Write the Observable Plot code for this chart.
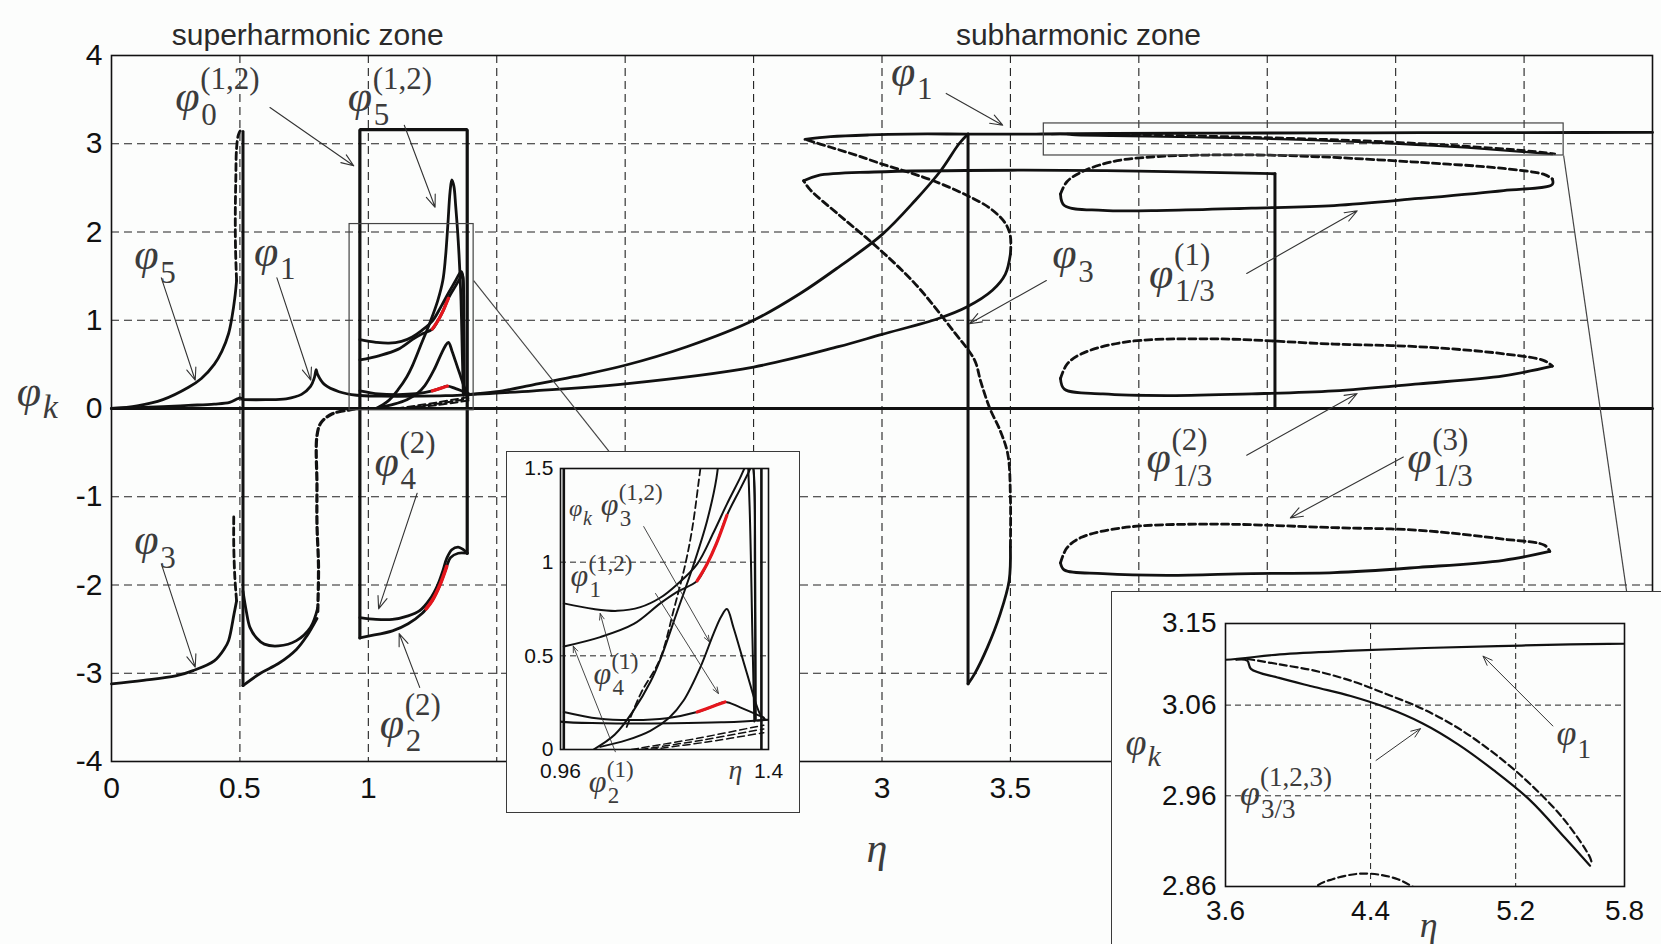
<!DOCTYPE html>
<html>
<head>
<meta charset="utf-8">
<script src="https://cdn.jsdelivr.net/npm/d3@7"></script>
<script src="https://cdn.jsdelivr.net/npm/@observablehq/plot@0.6"></script>
<style>
  html, body { margin: 0; padding: 0; background: #fcfdfc; overflow: hidden; }
  #stage { position: relative; width: 1661px; height: 944px; }
  #stage > svg { position: absolute; left: 0; top: 0; }
  .inset { position: absolute; background: #fcfdfc; outline: 1.5px solid #3a3a3a; overflow: hidden; }
  .inset > svg { position: absolute; left: 0; top: 0; }
  #inset1 { left: 507px; top: 452px; width: 292px; height: 360px; }
  #inset2 { left: 1112px; top: 592px; width: 560px; height: 360px; }
</style>
</head>
<body>
<div id="stage">
  <div class="inset" id="inset1"></div>
  <div class="inset" id="inset2"></div>
</div>
<script>
// ---------- axes / grid values ----------
const etaGrid = [0.5, 1, 1.5, 2, 2.5, 3, 3.5, 4, 4.5, 5, 5.5];
const phiGrid = [-3, -2, -1, 1, 2, 3];
const etaTickLabels = [0, 0.5, 1, 3, 3.5];
const phiTicks = [-4, -3, -2, -1, 0, 1, 2, 3, 4];

const zoomEtaTicks = [0.96, 1.4];
const zoomPhiTicks = [0, 0.5, 1, 1.5];
const zoomPhiGrid = [0.5, 1];

const topEtaTicks = [3.6, 4.4, 5.2, 5.8];
const topPhiTicks = [2.86, 2.96, 3.06, 3.15];
const topEtaGrid = [4.4, 5.2];
const topPhiGrid = [2.96, 3.06];

// ---------- superharmonic zone (eta < 1.4) ----------
const zeroLine = [[0, 0], [6, 0]];
const phi1Start = [[0, 0], [0.1, 0.01], [0.2, 0.02], [0.3, 0.035], [0.4, 0.05], [0.46, 0.07], [0.49, 0.11], [0.5, 0.12], [0.512, 0.1]];
const phi1Main = [[0.512, 0.1], [0.6, 0.1], [0.68, 0.11], [0.74, 0.16], [0.775, 0.25], [0.79, 0.35], [0.797, 0.44],
  [0.802, 0.39], [0.83, 0.27], [0.886, 0.19], [0.955, 0.15], [1.05, 0.14], [1.2, 0.14], [1.3, 0.145], [1.377, 0.155],
  [1.5, 0.19], [1.645, 0.27], [1.8, 0.36], [2.0, 0.49], [2.24, 0.70], [2.5, 1.0], [2.68, 1.30], [2.83, 1.60],
  [3.0, 1.97], [3.13, 2.36], [3.23, 2.70], [3.30, 3.0], [3.335, 3.11]];
const phi5Rise = [[0, 0], [0.1, 0.03], [0.2, 0.1], [0.3, 0.24], [0.35, 0.34], [0.4, 0.5], [0.43, 0.65], [0.456, 0.85],
  [0.47, 1.05], [0.48, 1.25], [0.487, 1.45]];
const phi5Unstable = [[0.487, 1.45], [0.483, 1.8], [0.482, 2.2], [0.484, 2.6], [0.487, 2.95], [0.494, 3.1], [0.503, 3.15], [0.512, 3.14]];
const jumpHalf = [[0.512, 3.14], [0.512, -3.14]];
const phi3Start = [[0, -3.12], [0.124, -3.08], [0.25, -3.03], [0.318, -2.97], [0.4, -2.86], [0.44, -2.72], [0.456, -2.63],
  [0.477, -2.33], [0.487, -2.18]];
const phi3Unstable = [[0.487, -2.18], [0.48, -1.9], [0.476, -1.55], [0.476, -1.22]];
const phi3UpperArc = [[0.512, -2.07], [0.525, -2.3], [0.539, -2.48], [0.565, -2.6], [0.595, -2.67], [0.65, -2.69],
  [0.72, -2.63], [0.775, -2.48], [0.803, -2.26]];
const phi3LowerArc = [[0.512, -3.14], [0.58, -3.0], [0.65, -2.89], [0.72, -2.73], [0.76, -2.58], [0.80, -2.38]];
const phi3Riser = [[0.803, -2.3], [0.806, -1.8], [0.80, -1.3], [0.80, -0.87], [0.80, -0.31], [0.816, -0.16],
  [0.86, -0.06], [0.927, -0.015], [0.96, 0]];

// resonance near eta = 1
const phi0Box = [[0.967, -2.6], [0.967, 3.16], [1.385, 3.16], [1.385, -1.64]];
const phi2Sup2 = [[0.967, -2.6], [1.0, -2.58], [1.094, -2.52], [1.155, -2.44], [1.21, -2.32], [1.225, -2.27],
  [1.25, -2.17], [1.28, -1.99], [1.305, -1.79], [1.32, -1.69], [1.35, -1.64], [1.385, -1.64]];
const phi4Sup2 = [[0.967, -2.37], [1.03, -2.39], [1.094, -2.39], [1.155, -2.35], [1.2, -2.29], [1.24, -2.16],
  [1.27, -2.0], [1.29, -1.84], [1.305, -1.70], [1.325, -1.6], [1.35, -1.57], [1.37, -1.6], [1.385, -1.64]];
const phi2Red = [[1.225, -2.27], [1.25, -2.17], [1.28, -1.99], [1.305, -1.79]];
const phi1Sup12 = [[0.967, 0.78], [1.03, 0.75], [1.08, 0.74], [1.129, 0.76], [1.171, 0.81], [1.206, 0.88],
  [1.249, 0.99], [1.284, 1.16], [1.312, 1.31], [1.34, 1.45], [1.355, 1.53], [1.362, 1.55], [1.368, 1.5],
  [1.371, 1.0], [1.372, 0.16]];
const phi4Sup1 = [[0.967, 0.55], [1.044, 0.60], [1.115, 0.67], [1.171, 0.78], [1.206, 0.84], [1.249, 0.90],
  [1.27, 0.99], [1.29, 1.10], [1.312, 1.25], [1.34, 1.39], [1.358, 1.48], [1.366, 1.52], [1.37, 1.4],
  [1.372, 0.9], [1.373, 0.16]];
const phi4Red = [[1.249, 0.90], [1.27, 0.99], [1.29, 1.10], [1.312, 1.25]];
const phi5Sup12 = [[1.03, 0.0], [1.075, 0.08], [1.115, 0.21], [1.15, 0.36], [1.171, 0.48], [1.206, 0.73],
  [1.242, 0.99], [1.27, 1.22], [1.29, 1.45], [1.30, 1.7], [1.31, 2.1], [1.318, 2.45], [1.325, 2.59],
  [1.333, 2.52], [1.34, 2.3], [1.35, 1.9], [1.36, 1.3], [1.366, 0.6], [1.37, 0.15]];
const phi5Sup12Unstable = [[1.10, 0.12], [1.13, 0.3], [1.17, 0.48], [1.20, 0.75], [1.225, 1.0], [1.24, 1.2], [1.256, 1.5], [1.262, 1.6]];
const phi3Sup12 = [[1.044, 0.014], [1.10, 0.05], [1.15, 0.10], [1.19, 0.17], [1.22, 0.26], [1.256, 0.44],
  [1.284, 0.62], [1.30, 0.71], [1.312, 0.75], [1.326, 0.65], [1.354, 0.41], [1.382, 0.19], [1.393, 0.16]];
const phi2Sup12 = [[0.967, 0.20], [1.04, 0.165], [1.115, 0.157], [1.185, 0.167], [1.249, 0.20], [1.28, 0.228],
  [1.308, 0.254], [1.34, 0.225], [1.39, 0.17]];
const phi2Red12 = [[1.249, 0.20], [1.28, 0.228], [1.308, 0.254]];
const phi2Sup1A = [[1.11, 0.0], [1.25, 0.06], [1.39, 0.13]];
const phi2Sup1B = [[1.13, 0.0], [1.26, 0.05], [1.39, 0.11]];
const phi2Sup1C = [[1.15, 0.0], [1.27, 0.04], [1.39, 0.09]];

// ---------- subharmonic zone ----------
const phi3Lower = [[1.377, 0.155], [1.645, 0.2], [2.0, 0.28], [2.5, 0.47], [2.83, 0.70], [3.0, 0.84], [3.22, 1.02],
  [3.33, 1.15], [3.43, 1.34], [3.48, 1.52], [3.5, 1.75]];
const phi3Upper = [[3.5, 1.75], [3.5, 1.95], [3.48, 2.1], [3.42, 2.27], [3.32, 2.43], [3.2, 2.58], [3.1, 2.68],
  [3.0, 2.77], [2.9, 2.87], [2.8, 2.96], [2.70, 3.05]];
const phi1Top = [[2.70, 3.05], [2.8, 3.08], [2.95, 3.10], [3.1, 3.11], [3.335, 3.11], [3.6, 3.11], [3.9, 3.116],
  [4.3, 3.12], [4.7, 3.123], [5.1, 3.125], [5.5, 3.127], [6.0, 3.128]];
const jumpSub = [[3.335, 3.11], [3.335, -3.12]];
const phi3Bottom = [[3.335, -3.12], [3.36, -3.01], [3.41, -2.71], [3.46, -2.33], [3.495, -1.95], [3.5, -1.57]];
const phi3Return = [[3.5, -1.57], [3.5, -1.0], [3.49, -0.52], [3.46, -0.25], [3.42, 0.0], [3.385, 0.3], [3.36, 0.55],
  [3.28, 0.87], [3.13, 1.41], [2.98, 1.83], [2.83, 2.2], [2.72, 2.48], [2.695, 2.58]];
const phi3Shelf = [[2.695, 2.58], [2.75, 2.64], [2.97, 2.68], [3.5, 2.70], [4.0, 2.69], [4.53, 2.66]];
const shelfDrop = [[4.53, 2.66], [4.53, 0]];

const loop1Unstable = [[3.695, 2.43], [3.72, 2.57], [3.777, 2.68], [3.86, 2.77], [3.94, 2.82], [4.10, 2.86],
  [4.19, 2.868], [4.33, 2.874], [4.45, 2.873], [4.55, 2.868], [4.63, 2.86], [4.76, 2.845], [5.09, 2.79],
  [5.42, 2.72], [5.58, 2.65], [5.61, 2.60]];
const loop1Stable = [[5.61, 2.60], [5.61, 2.54], [5.42, 2.47], [5.09, 2.38], [4.76, 2.30], [4.44, 2.27],
  [4.11, 2.245], [3.86, 2.245], [3.71, 2.30], [3.695, 2.43]];
const loop2Unstable = [[3.695, 0.34], [3.72, 0.50], [3.777, 0.62], [3.94, 0.75], [4.27, 0.79], [4.76, 0.73],
  [5.09, 0.70], [5.42, 0.62], [5.58, 0.54], [5.61, 0.48]];
const loop2Stable = [[5.61, 0.48], [5.42, 0.37], [5.09, 0.28], [4.76, 0.20], [4.44, 0.166], [4.11, 0.147],
  [3.86, 0.166], [3.71, 0.22], [3.695, 0.34]];
const loop3Unstable = [[3.695, -1.75], [3.72, -1.58], [3.777, -1.46], [3.94, -1.35], [4.27, -1.31], [4.76, -1.35],
  [5.09, -1.38], [5.42, -1.48], [5.58, -1.55], [5.60, -1.62]];
const loop3Stable = [[5.60, -1.62], [5.42, -1.72], [5.09, -1.80], [4.76, -1.86], [4.44, -1.87], [4.11, -1.89],
  [3.86, -1.87], [3.71, -1.83], [3.695, -1.75]];
const phi33Stable = [[3.66, 3.11], [3.72, 3.109], [3.74, 3.10], [3.896, 3.09], [4.09, 3.08], [4.29, 3.07],
  [4.49, 3.057], [4.685, 3.04], [4.88, 3.017], [5.08, 2.988], [5.28, 2.955], [5.47, 2.914], [5.61, 2.883]];
const phi33Unstable = [[3.72, 3.111], [3.896, 3.105], [4.09, 3.098], [4.29, 3.087], [4.49, 3.072], [4.685, 3.056],
  [4.88, 3.035], [5.08, 3.007], [5.28, 2.973], [5.47, 2.933], [5.61, 2.892], [5.62, 2.885]];

// zoom frames drawn on the main axes and their leader lines
const zoomFrames = [
  {x1: 0.927, x2: 1.41, y1: -0.02, y2: 2.09},
  {x1: 3.63, x2: 5.654, y1: 2.867, y2: 3.23}
];
const leaders = [
  {x1: 1.41, y1: 1.45, x2: 1.944, y2: -0.51},
  {x1: 5.654, y1: 2.867, x2: 5.90, y2: -2.09}
];

// ---------- annotations ----------
const zoneTitles = [
  {eta: 0.764, phi: 4.23, text: "superharmonic zone"},
  {eta: 3.765, phi: 4.23, text: "subharmonic zone"}
];
const mainLabels = [
  {eta: 0.248, phi: 3.43, sub: "0", sup: "(1,2)"},
  {eta: 0.92, phi: 3.43, sub: "5", sup: "(1,2)"},
  {eta: 0.089, phi: 1.64, sub: "5"},
  {eta: 0.555, phi: 1.68, sub: "1"},
  {eta: 0.089, phi: -1.59, sub: "3"},
  {eta: 1.024, phi: -0.70, sub: "4", sup: "(2)"},
  {eta: 1.044, phi: -3.67, sub: "2", sup: "(2)"},
  {eta: 3.035, phi: 3.72, sub: "1"},
  {eta: 3.663, phi: 1.65, sub: "3"},
  {eta: 4.04, phi: 1.43, sub: "1/3", sup: "(1)"},
  {eta: 4.03, phi: -0.66, sub: "1/3", sup: "(2)"},
  {eta: 5.045, phi: -0.66, sub: "1/3", sup: "(3)"}
];
const mainArrows = [
  {x1: 0.617, y1: 3.41, x2: 0.943, y2: 2.75},
  {x1: 1.14, y1: 3.21, x2: 1.26, y2: 2.28},
  {x1: 0.194, y1: 1.48, x2: 0.326, y2: 0.32},
  {x1: 0.644, y1: 1.48, x2: 0.776, y2: 0.32},
  {x1: 0.194, y1: -1.76, x2: 0.326, y2: -2.93},
  {x1: 1.19, y1: -0.96, x2: 1.04, y2: -2.27},
  {x1: 1.20, y1: -3.16, x2: 1.12, y2: -2.55},
  {x1: 3.25, y1: 3.57, x2: 3.47, y2: 3.21},
  {x1: 3.64, y1: 1.45, x2: 3.34, y2: 0.96},
  {x1: 4.42, y1: 1.53, x2: 4.85, y2: 2.24},
  {x1: 4.42, y1: -0.53, x2: 4.85, y2: 0.17},
  {x1: 5.03, y1: -0.55, x2: 4.59, y2: -1.24}
];
const mainAxisLabels = [{eta: -0.369, phi: 0.09, sub: "k"}];
const mainEtaLabel = [{eta: 2.98, phi: -4.99, text: "η"}];

const zoomLabels = [
  {eta: 1.045, phi: 1.27, sub: "3", sup: "(1,2)"},
  {eta: 0.981, phi: 0.893, sub: "1", sup: "(1,2)"},
  {eta: 1.030, phi: 0.368, sub: "4", sup: "(1)"},
  {eta: 1.020, phi: -0.208, sub: "2", sup: "(1)"}
];
const zoomArrows = [
  {x1: 1.136, y1: 1.19, x2: 1.275, y2: 0.575},
  {x1: 1.161, y1: 0.833, x2: 1.294, y2: 0.299},
  {x1: 1.069, y1: 0.495, x2: 1.044, y2: 0.726},
  {x1: 1.076, y1: -0.012, x2: 0.987, y2: 0.552}
];
const zoomAxisLabels = [{eta: 0.978, phi: 1.26, sub: "k"}];
const zoomEtaLabel = [{eta: 1.33, phi: -0.11, text: "η"}];

const topLabels = [
  {eta: 5.425, phi: 3.021, sub: "1"},
  {eta: 3.68, phi: 2.955, sub: "3/3", sup: "(1,2,3)"}
];
const topArrows = [
  {x1: 5.405, y1: 3.037, x2: 5.02, y2: 3.114},
  {x1: 4.43, y1: 2.999, x2: 4.675, y2: 3.034}
];
const topAxisLabels = [{eta: 3.049, phi: 3.010, sub: "k"}];
const topEtaLabel = [{eta: 4.72, phi: 2.817, text: "η"}];

// ---------- drawing helpers ----------
const INK = "#111";
const LABEL_INK = "#3c3c3c";
const MATH_FONT = "Liberation Serif, Times New Roman, serif";
const xy = {x: d => d[0], y: d => d[1]};

function solid(data, w, extra = {}) {
  return Plot.line(data, {...xy, stroke: INK, strokeWidth: w, strokeLinejoin: "round", curve: "catmull-rom", ...extra});
}
function dashed(data, w, extra = {}) {
  return Plot.line(data, {...xy, stroke: INK, strokeWidth: w, strokeDasharray: "7,4", curve: "catmull-rom", ...extra});
}
function straight(data, w, extra = {}) {
  return Plot.line(data, {...xy, stroke: INK, strokeWidth: w, strokeLinejoin: "miter", curve: "linear", ...extra});
}
function red(data, w, extra = {}) {
  return Plot.line(data, {...xy, stroke: "#e5161d", strokeWidth: w, curve: "catmull-rom", ...extra});
}

// phi with a subscript and optional superscript
function phiLabels(data, s) {
  return [
    Plot.text(data, {x: "eta", y: "phi", text: () => "φ", textAnchor: "start", dy: -0.2 * s.size,
      fontFamily: MATH_FONT, fontStyle: "italic", fontSize: s.size, fill: LABEL_INK}),
    Plot.text(data, {x: "eta", y: "phi", text: "sub", textAnchor: "start", dx: s.w, dy: s.subDy,
      fontFamily: MATH_FONT, fontStyle: s.subItalic ? "italic" : "normal", fontSize: s.subSize, fill: LABEL_INK}),
    Plot.text(data.filter(d => d.sup), {x: "eta", y: "phi", text: "sup", textAnchor: "start", dx: s.w - 1, dy: s.supDy,
      fontFamily: MATH_FONT, fontSize: s.supSize, fill: LABEL_INK})
  ];
}
function arrows(data, w, head) {
  return Plot.arrow(data, {x1: "x1", y1: "y1", x2: "x2", y2: "y2", stroke: "#333", strokeWidth: w,
    headLength: head, headAngle: 42});
}

// ---------- main chart ----------
const W = 2.8;
const main = Plot.plot({
  width: 1661, height: 944,
  marginLeft: 111, marginRight: 9, marginTop: 55, marginBottom: 183,
  style: {background: "transparent", fontFamily: "Liberation Sans, Arial, sans-serif", fontSize: "30px", color: "#111", overflow: "visible"},
  x: {domain: [0, 6], ticks: etaTickLabels, tickFormat: d => String(d), tickSize: 0, tickPadding: 15, label: null},
  y: {domain: [-4, 4], ticks: phiTicks, tickFormat: d => String(d), tickSize: 0, tickPadding: 9, label: null},
  marks: [
    Plot.ruleX(etaGrid, {stroke: "#222", strokeWidth: 1.1, strokeDasharray: "8,5"}),
    Plot.ruleY(phiGrid, {stroke: "#222", strokeWidth: 1.1, strokeDasharray: "8,5"}),
    Plot.frame({stroke: INK, strokeWidth: 1.6}),

    straight(zeroLine, 3),
    solid(phi1Start, W), solid(phi1Main, W),
    solid(phi5Rise, W), dashed(phi5Unstable, W),
    straight(jumpHalf, 3),
    solid(phi3Start, W), dashed(phi3Unstable, W),
    solid(phi3UpperArc, W), solid(phi3LowerArc, W), dashed(phi3Riser, 3.2),
    straight(phi0Box, 3.2),
    solid(phi2Sup2, W), solid(phi4Sup2, W),
    solid(phi1Sup12, W), solid(phi4Sup1, W), solid(phi5Sup12, W),
    solid(phi3Sup12, W), solid(phi2Sup12, W),
    dashed(phi2Sup1A, 2), dashed(phi2Sup1B, 2), dashed(phi2Sup1C, 2),
    red(phi2Red, 3.6), red(phi4Red, 3.2), red(phi2Red12, 3.2),

    solid(phi3Lower, W), dashed(phi3Upper, W), solid(phi1Top, W),
    straight(jumpSub, 3), solid(phi3Bottom, W), dashed(phi3Return, W), solid(phi3Shelf, W), straight(shelfDrop, 3),
    dashed(loop1Unstable, W), solid(loop1Stable, W),
    dashed(loop2Unstable, W), solid(loop2Stable, W),
    dashed(loop3Unstable, W), solid(loop3Stable, W),
    solid(phi33Stable, 2.2), dashed(phi33Unstable, 2.2),

    Plot.rect(zoomFrames, {x1: "x1", x2: "x2", y1: "y1", y2: "y2", fill: "none", stroke: "#444", strokeWidth: 1.2}),
    Plot.link(leaders, {x1: "x1", y1: "y1", x2: "x2", y2: "y2", stroke: "#444", strokeWidth: 1.2}),

    arrows(mainArrows, 1.1, 18),
    ...phiLabels(mainLabels, {size: 44, w: 26, subSize: 31, subDy: 9, supSize: 31, supDy: -27}),
    ...phiLabels(mainAxisLabels, {size: 44, w: 26, subSize: 34, subDy: 7, subItalic: true}),
    Plot.text(mainEtaLabel, {x: "eta", y: "phi", text: "text", fontFamily: MATH_FONT, fontStyle: "italic", fontSize: 42, fill: LABEL_INK}),
    Plot.text(zoneTitles, {x: "eta", y: "phi", text: "text", fontFamily: "Liberation Sans", fontSize: 30, fill: "#2a2a2a"})
  ]
});
document.getElementById("stage").prepend(main);

// ---------- zoom on the eta = 1 resonance ----------
const Wz = 2;
const zoom1 = Plot.plot({
  width: 292, height: 360,
  marginLeft: 53, marginRight: 31, marginTop: 16, marginBottom: 63,
  style: {background: "transparent", fontFamily: "Liberation Sans, Arial, sans-serif", fontSize: "21px", color: "#111", overflow: "visible"},
  x: {domain: [0.96, 1.4], ticks: zoomEtaTicks, tickFormat: d => String(d), tickSize: 0, tickPadding: 14, label: null},
  y: {domain: [0, 1.5], ticks: zoomPhiTicks, tickFormat: d => String(d), tickSize: 0, tickPadding: 7, label: null},
  marks: [
    Plot.ruleY(zoomPhiGrid, {stroke: "#222", strokeWidth: 1, strokeDasharray: "6,4"}),
    straight(phi0Box, 2.6, {clip: true}),
    solid(phi1Main, Wz, {clip: true}),
    solid(phi1Sup12, Wz, {clip: true}), solid(phi4Sup1, Wz, {clip: true}),
    solid(phi5Sup12, Wz, {clip: true}), dashed(phi5Sup12Unstable, 1.8, {clip: true}),
    solid(phi3Sup12, Wz, {clip: true}), solid(phi2Sup12, Wz, {clip: true}),
    solid(phi3Lower, Wz, {clip: true}),
    dashed(phi2Sup1A, 1.5, {clip: true}), dashed(phi2Sup1B, 1.5, {clip: true}), dashed(phi2Sup1C, 1.5, {clip: true}),
    red(phi4Red, 3.2, {clip: true}), red(phi2Red12, 3.2, {clip: true}),
    Plot.frame({stroke: INK, strokeWidth: 1.6}),
    arrows(zoomArrows, 0.9, 11),
    ...phiLabels(zoomLabels, {size: 32, w: 19, subSize: 23, subDy: 7, supSize: 23, supDy: -19}),
    ...phiLabels(zoomAxisLabels, {size: 24, w: 14, subSize: 20, subDy: 5, subItalic: true}),
    Plot.text(zoomEtaLabel, {x: "eta", y: "phi", text: "text", fontFamily: MATH_FONT, fontStyle: "italic", fontSize: 28, fill: LABEL_INK})
  ]
});
document.getElementById("inset1").append(zoom1);

// ---------- zoom on the 1/3 subharmonic near phi = pi ----------
const zoom2 = Plot.plot({
  width: 549, height: 352,
  marginLeft: 113, marginRight: 37, marginTop: 31, marginBottom: 58,
  style: {background: "transparent", fontFamily: "Liberation Sans, Arial, sans-serif", fontSize: "28px", color: "#111", overflow: "visible"},
  x: {domain: [3.6, 5.8], ticks: topEtaTicks, tickFormat: d => String(d), tickSize: 0, tickPadding: 14, label: null},
  y: {domain: [2.86, 3.15], ticks: topPhiTicks, tickFormat: d => d.toFixed(2), tickSize: 0, tickPadding: 9, label: null},
  marks: [
    Plot.ruleX(topEtaGrid, {stroke: "#222", strokeWidth: 1, strokeDasharray: "6,4"}),
    Plot.ruleY(topPhiGrid, {stroke: "#222", strokeWidth: 1, strokeDasharray: "6,4"}),
    solid(phi1Top, 2.2, {clip: true}),
    solid(phi33Stable, 2.2, {clip: true}), dashed(phi33Unstable, 2.2, {clip: true}),
    dashed(loop1Unstable, 2.2, {clip: true}),
    Plot.frame({stroke: INK, strokeWidth: 1.6}),
    arrows(topArrows, 1, 15),
    ...phiLabels(topLabels, {size: 36, w: 21, subSize: 27, subDy: 9, supSize: 27, supDy: -23}),
    ...phiLabels(topAxisLabels, {size: 38, w: 22, subSize: 30, subDy: 6, subItalic: true}),
    Plot.text(topEtaLabel, {x: "eta", y: "phi", text: "text", fontFamily: MATH_FONT, fontStyle: "italic", fontSize: 36, fill: LABEL_INK})
  ]
});
document.getElementById("inset2").append(zoom2);
</script>
</body>
</html>
